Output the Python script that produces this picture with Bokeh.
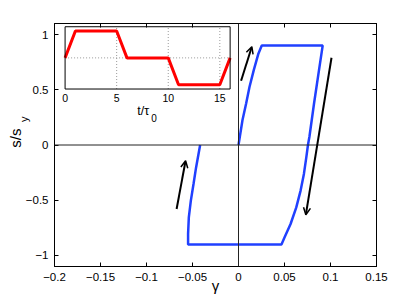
import numpy as np
from bokeh.plotting import figure
from bokeh.models import (Range1d, Span, Title, Arrow, OpenHead, LinearAxis,
                          FixedTicker, CustomJSTickFormatter)
from bokeh.core.properties import value
from bokeh.embed import file_html
from bokeh.resources import INLINE

# ---- data: stress-strain loop ----
loop_gamma = [0.0, 0.00435, 0.0083, 0.0120, 0.0166, 0.0217, 0.0253,
              0.0915, 0.0875, 0.0821, 0.0771, 0.0755, 0.0737, 0.0711, 0.0675,
              0.0628, 0.0566, 0.0501, 0.0467,
              -0.0548, -0.0548, -0.0540, -0.0518, -0.0489, -0.0461, -0.0417]
loop_s = [0.0, 0.226, 0.376, 0.527, 0.678, 0.829, 0.9,
          0.9, 0.678, 0.376, 0.075, 0.0, -0.112, -0.262, -0.413,
          -0.565, -0.715, -0.836, -0.9,
          -0.9, -0.805, -0.655, -0.504, -0.353, -0.203, 0.0]

# ---- data: inset protocol ----
inset_t = [0, 1, 5, 6, 10, 11, 15, 16]
inset_rate = [0, 1, 1, 0, 0, -1, -1, 0]
inset_xticks = [0, 5, 10, 15]
inset_xtick_labels = ["0", "5", "10", "15"]

# ---- data: direction arrows ----
arrow_x0 = [-0.0673, 0.0028, 0.1011]
arrow_y0 = [-0.579, 0.582, 0.790]
arrow_x1 = [-0.0575, 0.0145, 0.0732]
arrow_y1 = [-0.142, 0.890, -0.631]

# ---- ticks ----
x_ticks = [-0.2, -0.15, -0.1, -0.05, 0, 0.05, 0.1, 0.15]
x_tick_labels = ["\u22120.2", "\u22120.15", "\u22120.1", "\u22120.05", "0", "0.05", "0.1", "0.15"]
y_ticks = [-1, -0.5, 0, 0.5, 1]
y_tick_labels = ["\u22121", "\u22120.5", "0", "0.5", "1"]

FONT = "Liberation Sans"
BLUE = "#2040ff"

p = figure(width=415, height=301, x_range=Range1d(-0.2, 0.15), y_range=Range1d(-1.1, 1.1),
           output_backend="svg", toolbar_location=None,
           min_border_left=54, min_border_right=39, min_border_top=23, min_border_bottom=35)
p.xgrid.visible = False
p.ygrid.visible = False
p.outline_line_color = "black"
p.background_fill_color = "white"
p.border_fill_color = "white"

def style_axis(ax, ticks, labels=None):
    ax.ticker = FixedTicker(ticks=ticks)
    ax.major_tick_in = 4
    ax.major_tick_out = 0
    ax.minor_tick_line_color = None
    ax.axis_line_color = "black"
    ax.major_tick_line_color = "black"
    if labels is None:
        ax.formatter = CustomJSTickFormatter(code="return ''")
        ax.major_label_standoff = 0
    else:
        ax.major_label_overrides = {t: l for t, l in zip(ticks, labels)}
        ax.major_label_text_font = FONT
        ax.major_label_text_font_size = "11.5px"
        ax.major_label_text_color = "black"
        ax.axis_label_text_font = FONT
        ax.axis_label_text_font_style = "normal"
        ax.axis_label_text_font_size = "15px"
        ax.axis_label_text_color = "black"

style_axis(p.xaxis[0], x_ticks, x_tick_labels)
p.xaxis[0].major_label_standoff = 6
p.xaxis[0].axis_label = "\u03b3"
p.xaxis[0].axis_label_standoff = -7
style_axis(p.yaxis[0], y_ticks, y_tick_labels)
p.yaxis[0].major_label_standoff = 6

top_ax = LinearAxis()
style_axis(top_ax, x_ticks)
p.add_layout(top_ax, "above")
right_ax = LinearAxis()
style_axis(right_ax, y_ticks)
p.add_layout(right_ax, "right")

# y-axis label "s/s" with subscript "y"
p.add_layout(Title(text="y", align="right", offset=93, vertical_align="bottom", standoff=-14,
                   text_font=FONT, text_font_size="11px", text_font_style="normal",
                   text_color="black"), "left")
p.add_layout(Title(text="s/s", align="right", offset=105, vertical_align="bottom", standoff=-3,
                   text_font=FONT, text_font_size="15px", text_font_style="normal",
                   text_color="black"), "left")

# zero lines
p.add_layout(Span(location=0, dimension="width", line_color="#222222", line_width=1))
p.add_layout(Span(location=0, dimension="height", line_color="#222222", line_width=1))

# loop
p.line(loop_gamma, loop_s, line_color=BLUE, line_width=2.5)

# arrows
for xs, ys, xe, ye in zip(arrow_x0, arrow_y0, arrow_x1, arrow_y1):
    p.add_layout(Arrow(end=OpenHead(size=7, line_width=1.5, line_color="black"),
                       x_start=xs, y_start=ys, x_end=xe, y_end=ye,
                       line_width=2, line_color="black"))

# inset
inset = p.subplot(x_source=Range1d(0, 16), y_source=Range1d(-1.16, 1.16),
                  x_target=Range1d(-0.1885, -0.0091), y_target=Range1d(0.5068, 1.0706))
inset.quad(left=0, right=16, bottom=-1.16, top=1.16, fill_color="white", line_color=None)
inset.segment(x0=[5, 10, 15], y0=-1.16, x1=[5, 10, 15], y1=1.16,
              line_color="#999999", line_width=1, line_dash="1 2")
inset.segment(x0=[0], y0=0, x1=[16], y1=0,
              line_color="#999999", line_width=1, line_dash="1 2")
inset.line(inset_t, inset_rate, line_color="#ff0000", line_width=3)
inset.quad(left=0, right=16, bottom=-1.16, top=1.16, fill_color=None, line_color="black", line_width=1)
inset.text(x=inset_xticks, y=-1.5, text=inset_xtick_labels, text_align="center",
           text_baseline="middle", text_font=value(FONT), text_font_size="10.5px", text_color="black")
inset.text(x=[7.58], y=[-1.97], text=["t/\u03c4"], text_align="center", text_baseline="middle",
           text_font=value(FONT), text_font_size="12.5px", text_color="black")
inset.text(x=[8.62], y=[-2.25], text=["0"], text_align="center", text_baseline="middle",
           text_font=value(FONT), text_font_size="10px", text_color="black")

open("out.html", "w").write(file_html(p, INLINE))
